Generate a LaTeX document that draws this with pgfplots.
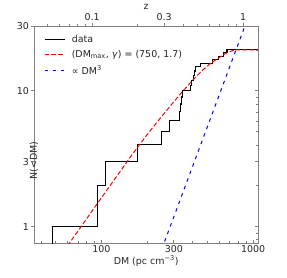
\documentclass[border=0pt]{standalone}
\usepackage{fontspec}
\setmainfont{DejaVu Sans}
\usepackage{pgfplots}
\pgfplotsset{compat=1.18}
\definecolor{spine}{gray}{0.5}
\definecolor{txt}{gray}{0.15}
\begin{document}
\begin{tikzpicture}
% main axis
\begin{axis}[
  scale only axis, width=224.3bp, height=217bp,
  at={(0,0)}, anchor=south west,
  xmode=log, ymode=log, xmin=36, xmax=1080, ymin=0.758, ymax=30,
  axis line style={spine, line width=0.7pt},
  every tick/.style={spine, line width=0.7pt},
  major tick length=3.5bp, minor tick length=2bp,
  tick label style={font=\fontsize{9.5}{11}\selectfont, text=txt},
  /pgf/number format/assume math mode=true,
  xtick={100,300,1000}, xticklabels={100,300,1000},
  minor xtick={40,50,60,70,80,90,200,400,500,600,700,800,900},
  xtick pos=left, tick align=inside,
  ytick=\empty,
  minor ytick={0.8,0.9,2,4,5,6,7,8,9,20},
  extra y ticks={1,3,10,30}, extra y tick labels={1,3,10,30},
  extra y tick style={tick align=outside, yticklabel style={inner xsep=1.5bp}},
  ytick pos=left,
  xticklabel style={inner ysep=2bp},
  every axis x label/.style={at={(axis description cs:0.5,0)}, anchor=center, yshift=-18bp,
     font=\fontsize{9.5}{11}\selectfont, text=txt},
  every axis y label/.style={at={(axis description cs:0,0.5)}, rotate=90, anchor=center,
     xshift=-26bp, font=\fontsize{9.5}{11}\selectfont, text=txt},
  xlabel={DM (pc cm\textsuperscript{−3})},
  ylabel={N(<DM)},
  legend style={at={(0,1)}, anchor=north west, draw=none, fill=none,
     font=\fontsize{9.5}{11}\selectfont, text=txt, xshift=7bp, yshift=-5bp,
     row sep=2.5bp, /tikz/every odd column/.style={column sep=4.5bp}},
  legend cell align=left,
  legend image code/.code={\draw[#1] (0bp,0bp) -- (20bp,0bp);},
]
\addplot[black, line width=1.1pt, const plot mark left] coordinates {
(47.7,0.5) (47.7,1) (94.5,2) (106.7,3) (172.5,4) (248,5) (280,6) (327,7)
(331,8) (335,9) (341,10) (385,11) (392,12) (402,13) (408,14) (415,15)
(450,16) (540,17) (590,18) (635,19) (672,20) (1200,20)
};
\addlegendentry{data}
\addplot[red, line width=1pt, dash pattern=on 4.5bp off 2.2bp] coordinates {
(39.8,0.377) (61.7,0.759) (100,1.63) (125.9,2.34) (158.5,3.36) (199.5,4.74)
(251.2,6.53) (295.1,8.12) (338.8,9.77) (416.9,12.6) (467.7,14.3) (521,15.85)
(588.8,17.4) (654.6,18.8) (707.9,19.5) (750,20) (1200,20)
};
\addlegendentry{(DM\textsubscript{max}, \textit{γ}) = (750, 1.7)}
\addplot[blue, line width=1pt, dash pattern=on 3.5bp off 4.5bp] coordinates {
(250,0.684) (1000,43.8)
};
\addlegendentry{ ∝ DM\textsuperscript{3}}
\end{axis}
% right ticks
\begin{axis}[
  scale only axis, width=224.3bp, height=217bp,
  at={(0,0)}, anchor=south west,
  xmode=log, ymode=log, xmin=36, xmax=1080, ymin=0.758, ymax=30,
  axis line style={spine, line width=0.7pt},
  every tick/.style={spine, line width=0.7pt},
  major tick length=3.5bp, minor tick length=2bp,
  hide x axis, axis y line*=right, tick align=inside,
  ytick={1,3,10,30}, yticklabels={},
  minor ytick={0.8,0.9,2,4,5,6,7,8,9,20},
]
\addplot[draw=none] coordinates {(100,1)};
\end{axis}
% top z axis
\begin{axis}[
  scale only axis, width=224.3bp, height=217bp,
  at={(0,0)}, anchor=south west,
  xmode=log, ymode=log, xmin=36, xmax=1080, ymin=0.758, ymax=30,
  axis line style={spine, line width=0.7pt},
  every tick/.style={spine, line width=0.7pt},
  major tick length=3.5bp, minor tick length=2bp,
  tick label style={font=\fontsize{9.5}{11}\selectfont, text=txt},
  /pgf/number format/assume math mode=true,
  hide y axis, axis x line*=top, tick align=outside,
  xtick={87,258.6,859.2}, xticklabels={0.1,0.3,1},
  minor xtick={44.1,52.7,61.3,69.8,78.4,172.8,344.4,430.2,516,601.8,687.6,773.4},
  xticklabel style={inner ysep=1.5bp},
  every axis x label/.style={at={(axis description cs:0.5,1)}, anchor=center, yshift=19bp,
     font=\fontsize{9.5}{11}\selectfont, text=txt},
  xlabel={z},
]
\addplot[draw=none] coordinates {(100,1)};
\end{axis}
\pgfresetboundingbox
\path (-34bp,-35bp) rectangle (253bp,243bp);
\end{tikzpicture}
\end{document}
